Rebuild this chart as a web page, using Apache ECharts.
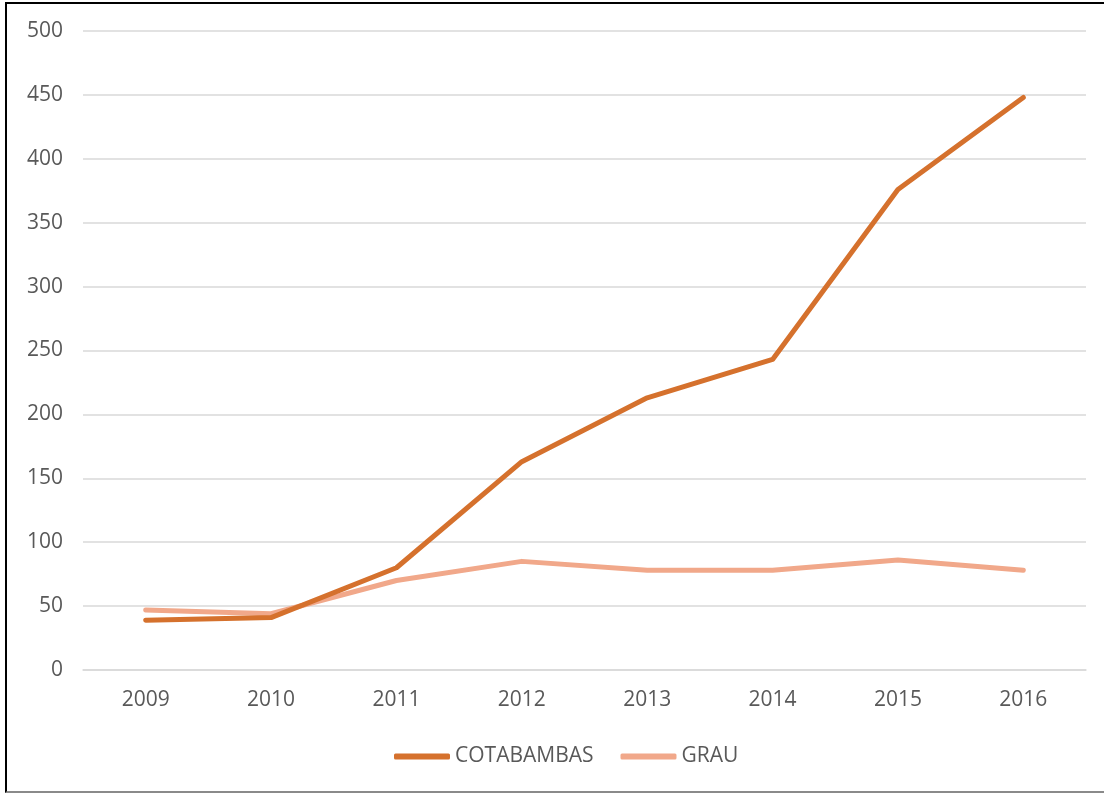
<!DOCTYPE html>
<html>
<head>
<meta charset="utf-8">
<script src="https://cdn.jsdelivr.net/npm/echarts@6/dist/echarts.min.js"></script>
<style>
  html, body { margin: 0; padding: 0; background: #fff; overflow: hidden; }
  #chart { position: absolute; left: 0; top: 0; width: 1104px; height: 793px; }
  #frame {
    position: absolute; left: 5px; top: 2px; width: 1120px; height: 787px;
    border-left: 2px solid #000; border-top: 2px solid #000; border-bottom: 2px solid #8a8a8a;
    pointer-events: none;
  }
</style>
</head>
<body>
<div id="chart"></div>
<div id="frame"></div>
<script>
// datos
const years = ['2009', '2010', '2011', '2012', '2013', '2014', '2015', '2016']
const cotabambas = [39, 41, 80, 163, 213, 243, 376, 448]
const grau = [47, 44, 70, 85, 78, 78, 86, 78]

const chart = echarts.init(document.getElementById('chart'))
const labelFont = { color: '#595959', fontSize: 21, fontFamily: 'Open Sans' }

chart.setOption({
  animation: false,
  grid: { left: 83, right: 18, top: 31, bottom: 123, containLabel: false },
  legend: {
    bottom: 21,
    left: 389,
    itemWidth: 56,
    itemHeight: 6,
    itemGap: 27,
    icon: 'roundRect',
    textStyle: labelFont,
    data: ['COTABAMBAS', 'GRAU']
  },
  xAxis: {
    type: 'category',
    data: years,
    boundaryGap: true,
    axisLine: { lineStyle: { color: '#d9d9d9', width: 1.5 } },
    axisTick: { show: false },
    axisLabel: { ...labelFont, margin: 20 }
  },
  yAxis: {
    type: 'value',
    min: 0,
    max: 500,
    interval: 50,
    axisLine: { show: false },
    axisTick: { show: false },
    axisLabel: { ...labelFont, margin: 20 },
    splitLine: { lineStyle: { color: '#d9d9d9', width: 1.5 } }
  },
  series: [
    {
      name: 'COTABAMBAS',
      type: 'line',
      data: cotabambas,
      showSymbol: false,
      symbol: 'none',
      lineStyle: { color: '#D5712D', width: 5, cap: 'round', join: 'round' },
      itemStyle: { color: '#D5712D' }
    },
    {
      name: 'GRAU',
      type: 'line',
      data: grau,
      showSymbol: false,
      symbol: 'none',
      lineStyle: { color: '#F1A88A', width: 5, cap: 'round', join: 'round' },
      itemStyle: { color: '#F1A88A' },
      z: 1
    }
  ]
})
</script>
</body>
</html>
